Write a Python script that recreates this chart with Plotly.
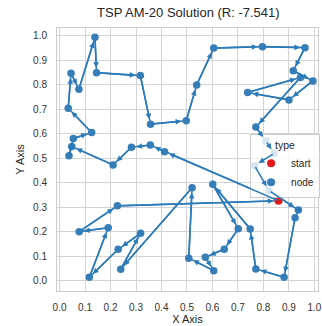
import plotly.graph_objects as go

# Tour order (first point is the start node)
tour_x = [0.859, 0.412, 0.356, 0.282, 0.210, 0.048, 0.037, 0.054, 0.126, 0.034,
          0.045, 0.076, 0.139, 0.145, 0.317, 0.357, 0.497, 0.538, 0.605, 0.796,
          0.963, 0.917, 0.994, 0.900, 0.738, 0.945, 0.770, 0.810, 0.842, 0.765,
          0.822, 0.937, 0.924, 0.881, 0.770, 0.748, 0.601, 0.701, 0.646, 0.572,
          0.605, 0.507, 0.520, 0.240, 0.318, 0.230, 0.117, 0.191, 0.077, 0.227]
tour_y = [0.327, 0.527, 0.554, 0.545, 0.473, 0.548, 0.510, 0.581, 0.605, 0.704,
          0.847, 0.781, 0.993, 0.849, 0.837, 0.639, 0.653, 0.799, 0.949, 0.955,
          0.951, 0.857, 0.815, 0.738, 0.768, 0.829, 0.627, 0.570, 0.520, 0.470,
          0.368, 0.289, 0.258, 0.015, 0.049, 0.212, 0.394, 0.213, 0.129, 0.097,
          0.042, 0.093, 0.380, 0.048, 0.194, 0.129, 0.015, 0.217, 0.201, 0.306]

title_text = "TSP AM-20 Solution (R: -7.541)"
tick_vals = [0.0, 0.1, 0.2, 0.3, 0.4, 0.5, 0.6, 0.7, 0.8, 0.9, 1.0]
tick_text = ["0.0", "0.1", "0.2", "0.3", "0.4", "0.5", "0.6", "0.7", "0.8", "0.9", "1.0"]

LINE = "#2b7bba"
NODE = "#377eb8"
START = "#e41a1c"
FONT = "Liberation Sans, Arial, sans-serif"

fig = go.Figure()

# closed tour line
cx = tour_x + [tour_x[0]]
cy = tour_y + [tour_y[0]]
fig.add_trace(go.Scatter(x=cx, y=cy, mode="lines", line=dict(color=LINE, width=1.6),
                         showlegend=False, hoverinfo="skip"))

# arrowheads
anns = []
n = len(cx)
for i in range(n - 1):
    anns.append(dict(x=cx[i + 1], y=cy[i + 1], ax=cx[i], ay=cy[i], xref="x", yref="y",
                     axref="x", ayref="y", text="", showarrow=True, arrowhead=2,
                     arrowsize=0.75, arrowwidth=1.5, arrowcolor=LINE, standoff=5))

fig.add_trace(go.Scatter(x=tour_x[1:], y=tour_y[1:], mode="markers", name="node",
                         marker=dict(color=NODE, size=7.5), showlegend=False))
fig.add_trace(go.Scatter(x=[tour_x[0]], y=[tour_y[0]], mode="markers", name="start",
                         marker=dict(color=START, size=8)))
fig.add_trace(go.Scatter(x=[None], y=[None], mode="markers", name="node",
                         marker=dict(color=NODE, size=8)))

axis_common = dict(tickvals=tick_vals, ticktext=tick_text, showgrid=True,
                   gridcolor="#d4d4d4", gridwidth=1, zeroline=False, showline=True,
                   linecolor="#cccccc", linewidth=1, mirror=True, ticks="outside",
                   ticklen=7, tickcolor="rgba(0,0,0,0)", automargin=False,
                   tickfont=dict(size=10, color="#333333", family=FONT))

fig.update_layout(
    width=322, height=326,
    margin=dict(l=57, r=3, t=28, b=35),
    paper_bgcolor="white", plot_bgcolor="white",
    title=dict(text=title_text, x=0.585, xanchor="center", y=0.963, yanchor="middle",
               font=dict(size=13, color="#262626", family=FONT), automargin=False),
    xaxis=dict(range=[-0.01, 1.014],
               title=dict(text="X Axis", font=dict(size=11, color="#262626", family=FONT), standoff=2),
               **axis_common),
    yaxis=dict(range=[-0.041, 1.031],
               title=dict(text="Y Axis", font=dict(size=11, color="#262626", family=FONT), standoff=6),
               **axis_common),
    legend=dict(x=0.737, y=0.597, xanchor="left", yanchor="top",
                bgcolor="rgba(255,255,255,0.8)", bordercolor="#cccccc", borderwidth=1,
                title=dict(text="type", side="top center", font=dict(size=10.5, color="#262626", family=FONT)),
                font=dict(size=10, color="#262626", family=FONT),
                itemsizing="trace", tracegroupgap=0, itemwidth=30),
    annotations=anns,
    showlegend=True,
)

fig.write_html("out.html", config={"displayModeBar": False},
               post_script="document.body.style.margin='0';document.body.style.overflow='hidden';")
